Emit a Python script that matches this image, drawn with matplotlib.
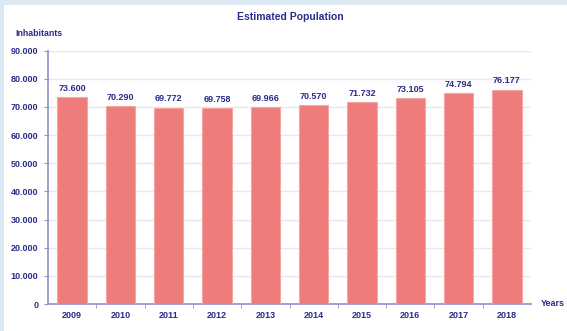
import matplotlib
matplotlib.use("Agg")
import matplotlib.pyplot as plt
from matplotlib.patches import Rectangle
from matplotlib.ticker import FuncFormatter, MultipleLocator

years = ["2009", "2010", "2011", "2012", "2013", "2014", "2015", "2016", "2017", "2018"]
population = [73600, 70290, 69772, 69758, 69966, 70570, 71732, 73105, 74794, 76177]
value_labels = ["73.600", "70.290", "69.772", "69.758", "69.966", "70.570", "71.732", "73.105", "74.794", "76.177"]

navy = "#2b2b8c"
axis_col = "#8f8fcf"

plt.rcParams['font.family'] = ['Liberation Sans', 'DejaVu Sans']

W, H = 567, 331
fig = plt.figure(figsize=(W / 100, H / 100), dpi=100)
fig.patch.set_facecolor("#dce8f4")
fig.patches.append(Rectangle((4 / W, 0), 1, 1 - 5 / H, transform=fig.transFigure,
                             facecolor="white", edgecolor="none", zorder=-10))

ax = fig.add_axes([48 / W, 1 - 304 / H, (531 - 48) / W, (304 - 50.7) / H])
ax.set_facecolor("none")

x = list(range(len(years)))
bars = ax.bar(x, population, width=0.61, color="#ee7c7a", edgecolor="#f5a5a3", linewidth=0.8, zorder=3)

ax.set_xlim(-0.5, len(years) - 0.5)
ax.set_ylim(0, 90000)
ax.yaxis.set_major_locator(MultipleLocator(10000))
ax.yaxis.set_major_formatter(FuncFormatter(lambda v, p: "0" if v == 0 else f"{int(v):,}".replace(",", ".")))
ax.grid(axis="y", color="#e6e6f8", linewidth=1.0, zorder=0)
ax.set_axisbelow(True)

for s in ["top", "right"]:
    ax.spines[s].set_visible(False)
for s in ["left", "bottom"]:
    ax.spines[s].set_color(axis_col)
    ax.spines[s].set_linewidth(1.2)

ax.set_xticks(x)
ax.set_xticklabels(years)
ax.set_xticks([i + 0.5 for i in x[:-1]], minor=True)
ax.tick_params(axis="x", which="major", length=0, pad=5, labelsize=6.5, labelcolor=navy)
ax.tick_params(axis="x", which="minor", length=3, color=axis_col, direction="out")
ax.tick_params(axis="y", length=3, color=axis_col, pad=4, labelsize=6.5, labelcolor=navy)
for lab in ax.get_xticklabels() + ax.get_yticklabels():
    lab.set_fontweight("bold")

for xi, v, lab in zip(x, population, value_labels):
    ax.annotate(lab, (xi, v), xytext=(0, 3), textcoords="offset points",
                ha="center", va="bottom", fontsize=6.5, fontweight="bold", color=navy)

fig.text(290 / W, 1 - 17 / H, "Estimated Population", ha="center", va="center",
         fontsize=7.5, fontweight="bold", color=navy)
fig.text(15 / W, 1 - 33 / H, "Inhabitants", ha="left", va="center",
         fontsize=6.3, fontweight="bold", color=navy)
fig.text(541 / W, 1 - 303 / H, "Years", ha="left", va="center",
         fontsize=6.5, fontweight="bold", color=navy)

fig.savefig("out.png", dpi=100)
